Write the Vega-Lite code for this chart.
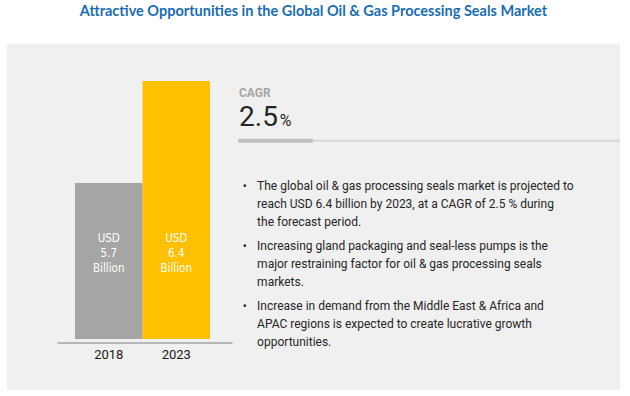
{
  "$schema": "https://vega.github.io/schema/vega-lite/v6.json",
  "width": 613,
  "height": 346,
  "autosize": "none",
  "padding": {"left": 7, "top": 44, "right": 10, "bottom": 6},
  "background": "#ffffff",
  "config": {"view": {"fill": "#f0f0f0", "stroke": null}},
  "title": {
    "text": "Attractive Opportunities in the Global Oil & Gas Processing Seals Market",
    "font": "Lato",
    "fontSize": 14.5,
    "fontWeight": "bold",
    "color": "#1a6db3",
    "anchor": "middle",
    "frame": "group",
    "offset": 25
  },
  "datasets": {
    "market": [
      {"year": "2018", "value": 5.7, "label": "USD\n5.7\nBillion"},
      {"year": "2023", "value": 6.4, "label": "USD\n6.4\nBillion"}
    ],
    "notes": [
      {"n": 1, "text": "The global oil & gas processing seals market is projected to\nreach USD 6.4 billion by 2023, at a CAGR of 2.5 % during\nthe forecast period."},
      {"n": 2, "text": "Increasing gland packaging and seal-less pumps is the\nmajor restraining factor for oil & gas processing seals\nmarkets."},
      {"n": 3, "text": "Increase in demand from the Middle East & Africa and\nAPAC  regions is expected to create lucrative growth\nopportunities."}
    ],
    "cagr": [{"label": "CAGR", "cagr": 2.5, "unit": "%"}]
  },
  "layer": [
    {
      "data": {"name": "market"},
      "encoding": {
        "x": {
          "field": "year",
          "type": "nominal",
          "scale": {"range": [50, 225], "paddingInner": 0, "paddingOuter": 0.2963, "align": 0.45},
          "axis": {
            "title": null,
            "labelAngle": 0,
            "ticks": false,
            "grid": false,
            "domainColor": "#7f7f7f",
            "domainWidth": 1,
            "labelFont": "Roboto",
            "labelFontSize": 13,
            "labelFontWeight": "normal",
            "labelColor": "#1a1a1a",
            "labelPadding": 6,
            "offset": -47.5
          }
        }
      },
      "layer": [
        {
          "mark": {"type": "bar"},
          "encoding": {
            "y": {
              "field": "value",
              "type": "quantitative",
              "scale": {"domain": [4.63, 6.4], "range": [295, 37], "zero": false, "nice": false},
              "axis": null
            },
            "y2": {"datum": 4.63},
            "color": {
              "field": "year",
              "type": "nominal",
              "scale": {"domain": ["2018", "2023"], "range": ["#a5a5a5", "#ffc000"]},
              "legend": null
            }
          }
        },
        {
          "mark": {
            "type": "text",
            "lineBreak": "\n",
            "lineHeight": 15,
            "baseline": "middle",
            "align": "center",
            "font": "DejaVu Sans Condensed, Roboto, sans-serif",
            "fontSize": 11.5,
            "color": "#ffffff"
          },
          "encoding": {
            "y": {"datum": 5.316, "type": "quantitative"},
            "text": {"field": "label", "type": "nominal"}
          }
        }
      ]
    },
    {
      "encoding": {},
      "layer": [
        {
          "data": {"name": "cagr"},
          "mark": {"type": "rule", "color": "#d6d6d6", "strokeWidth": 2},
          "encoding": {
            "x": {"datum": 49.9, "type": "quantitative", "scale": {"domain": [0, 100], "nice": false, "zero": false}, "axis": null},
            "x2": {"datum": 100},
            "y": {"datum": 0.245, "type": "quantitative", "scale": {"domain": [0, 3], "range": [82, 262], "nice": false, "zero": false}, "axis": null}
          }
        },
        {
          "data": {"name": "cagr"},
          "mark": {"type": "rule", "color": "#bfbfbf", "strokeWidth": 4},
          "encoding": {
            "x": {"datum": 37.7, "type": "quantitative"},
            "x2": {"datum": 49.9},
            "y": {"datum": 0.245, "type": "quantitative"}
          }
        },
        {
          "data": {"name": "cagr"},
          "mark": {"type": "text", "align": "left", "baseline": "middle", "font": "Roboto", "fontSize": 12, "fontWeight": "bold", "color": "#a6a6a6"},
          "encoding": {
            "x": {"datum": 37.85, "type": "quantitative"},
            "y": {"datum": -0.55, "type": "quantitative"},
            "text": {"field": "label", "type": "nominal"}
          }
        },
        {
          "data": {"name": "cagr"},
          "mark": {"type": "text", "align": "left", "baseline": "alphabetic", "font": "Roboto", "fontSize": 28, "color": "#262626"},
          "encoding": {
            "x": {"datum": 37.85, "type": "quantitative"},
            "y": {"datum": 0, "type": "quantitative"},
            "text": {"field": "cagr", "type": "quantitative", "format": ".1f"}
          }
        },
        {
          "data": {"name": "cagr"},
          "mark": {"type": "text", "align": "left", "baseline": "alphabetic", "font": "Roboto", "fontSize": 16, "color": "#262626"},
          "encoding": {
            "x": {"datum": 44.5, "type": "quantitative"},
            "y": {"datum": 0, "type": "quantitative"},
            "text": {"field": "unit", "type": "nominal"}
          }
        },
        {
          "data": {"name": "notes"},
          "mark": {"type": "text", "align": "center", "baseline": "middle", "lineBreak": "\n", "lineHeight": 18, "font": "Roboto", "fontSize": 12, "color": "#262626"},
          "encoding": {
            "x": {"datum": 38.8, "type": "quantitative"},
            "y": {"field": "n", "type": "quantitative"},
            "text": {"value": "•\n \n "}
          }
        },
        {
          "data": {"name": "notes"},
          "mark": {"type": "text", "align": "left", "baseline": "middle", "lineBreak": "\n", "lineHeight": 18, "font": "Roboto", "fontSize": 12, "color": "#262626"},
          "encoding": {
            "x": {"datum": 40.8, "type": "quantitative"},
            "y": {"field": "n", "type": "quantitative"},
            "text": {"field": "text", "type": "nominal"}
          }
        }
      ]
    }
  ],
  "resolve": {"scale": {"x": "independent", "y": "independent"}, "axis": {"x": "independent", "y": "independent"}}
}
